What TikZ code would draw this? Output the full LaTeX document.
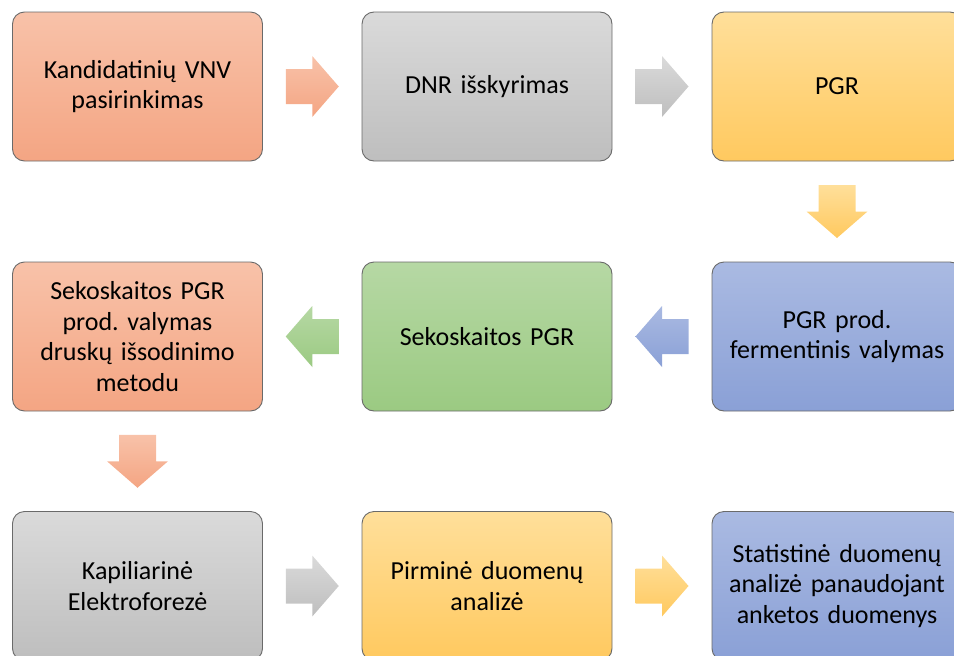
\documentclass[tikz,border=0pt]{standalone}
\usepackage{fontspec}
\setmainfont{Carlito}
\usetikzlibrary{calc}
\frenchspacing

\definecolor{boxline}{HTML}{6A6A6A}
\definecolor{salmonTop}{HTML}{F8C2A9}
\definecolor{salmonBot}{HTML}{F4A583}
\definecolor{greyTop}{HTML}{DADADA}
\definecolor{greyBot}{HTML}{BEBEBE}
\definecolor{yellowTop}{HTML}{FFDF9A}
\definecolor{yellowBot}{HTML}{FFC95F}
\definecolor{blueTop}{HTML}{AABAE2}
\definecolor{blueBot}{HTML}{8AA0D6}
\definecolor{greenTop}{HTML}{B6D8A4}
\definecolor{greenBot}{HTML}{9BCA82}

\begin{document}
\begin{tikzpicture}[
    x=1pt, y=-1pt,
    font=\fontsize{26}{30.5}\selectfont,
    box/.style 2 args={rectangle, rounded corners=12pt, draw=boxline, line width=0.9pt,
        top color=#1, bottom color=#2, minimum width=250pt, minimum height=149pt,
        text width=244pt, align=center, inner sep=0pt},
    pics/arrright/.style args={#1/#2}{code={
        \path[top color=#1, bottom color=#2]
            (-26.5,-17.5) -- (0,-17.5) -- (0,-30.5) -- (26.5,0)
            -- (0,30.5) -- (0,17.5) -- (-26.5,17.5) -- cycle;}},
    pics/arrleft/.style args={#1/#2}{code={
        \path[top color=#1, bottom color=#2]
            (26.5,-17.5) -- (0,-17.5) -- (0,-30.5) -- (-26.5,0)
            -- (0,30.5) -- (0,17.5) -- (26.5,17.5) -- cycle;}},
    pics/arrdown/.style args={#1/#2}{code={
        \path[top color=#1, bottom color=#2]
            (-18.5,-26.5) -- (18.5,-26.5) -- (18.5,0) -- (30.5,0)
            -- (0,26.5) -- (-30.5,0) -- (-18.5,0) -- cycle;}}
]
    \useasboundingbox (0,0) rectangle (954,656);

    % Boxes
    \node[box={salmonTop}{salmonBot}] (select) at (137.5,86.5) {Kandidatinių VNV\\pasirinkimas};
    \node[box={greyTop}{greyBot}] (dna) at (487,86.5) {DNR išskyrimas};
    \node[box={yellowTop}{yellowBot}] (pcr) at (837,86.5) {PGR};

    \node[box={blueTop}{blueBot}] (enzclean) at (837,336.5) {PGR prod.\\fermentinis valymas};
    \node[box={greenTop}{greenBot}] (seqpcr) at (487,336.5) {Sekoskaitos PGR};
    \node[box={salmonTop}{salmonBot}] (saltclean) at (137.5,336.5)
        {Sekoskaitos PGR\\prod. valymas\\druskų išsodinimo\\metodu};

    \node[box={greyTop}{greyBot}] (electro) at (137.5,586) {Kapiliarinė\\Elektroforezė};
    \node[box={yellowTop}{yellowBot}] (primary) at (487,586) {Pirminė duomenų\\analizė};
    \node[box={blueTop}{blueBot}] (stats) at (837,586)
        {Statistinė duomenų\\analizė panaudojant\\anketos duomenys};

    % Block arrows
    \pic at ($(select.east)!0.5!(dna.west)$) {arrright={salmonTop/salmonBot}};
    \pic at ($(dna.east)!0.5!(pcr.west)$) {arrright={greyTop/greyBot}};
    \pic at ($(pcr.south)!0.5!(enzclean.north)$) {arrdown={yellowTop/yellowBot}};
    \pic at ($(enzclean.west)!0.5!(seqpcr.east)$) {arrleft={blueTop/blueBot}};
    \pic at ($(seqpcr.west)!0.5!(saltclean.east)$) {arrleft={greenTop/greenBot}};
    \pic at ($(saltclean.south)!0.5!(electro.north)$) {arrdown={salmonTop/salmonBot}};
    \pic at ($(electro.east)!0.5!(primary.west)$) {arrright={greyTop/greyBot}};
    \pic at ($(primary.east)!0.5!(stats.west)$) {arrright={yellowTop/yellowBot}};

\end{tikzpicture}
\end{document}
